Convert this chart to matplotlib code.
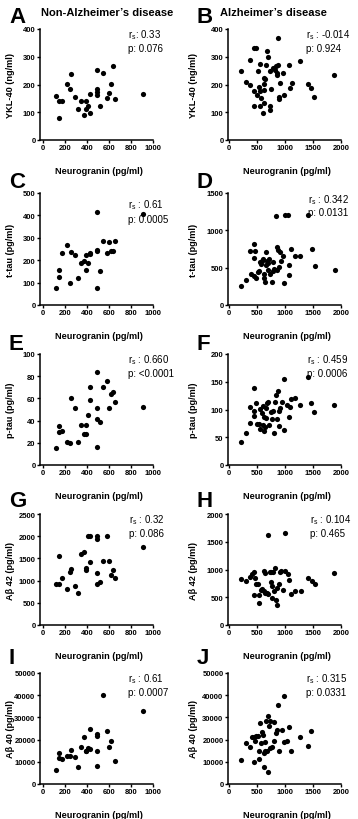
import matplotlib

matplotlib.use('Agg')
import matplotlib.pyplot as plt
import numpy as np

plt.rcParams['font.family'] = ['Liberation Sans', 'DejaVu Sans']
plt.rcParams['mathtext.default'] = 'regular'

nan = np.nan

# Non-Alzheimer's group: neurogranin (pg/ml), same subjects in A, C, E, G, I
ng_non = [120, 139, 139, 172, 217, 241, 256, 286, 319, 340, 373, 386, 392, 404,
          422, 425, 488, 488, 491, 491, 521, 542, 581, 596, 617, 636, 651, 910]
ykl_non = [158, 141, 81, 141, 203, 182, 239, 156, 110, 139, 91, 141, 110, 124,
           99, 166, 172, 161, 254, 185, 124, 240, 151, 170, 203, 268, 146, 167]
ttau_non = [75, 156, 126, 231, 270, 96, 235, 225, 120, 189, 195, 156, 222, 186,
            231, 228, 415, 245, 240, 75, 154, 284, 233, 280, 243, 240, 287, 407]
ptau_non = [15, 35, 30, 31, 21, 20, 60, 51, 21, 36, 28, 28, 36, 45,
            59, 70, 84, 51, 41, 16, 39, 70, 76, 51, 64, 66, 57, 52]
ab42_non = [920, 1550, 920, 1050, 820, 1200, 1270, 870, 720, 1600, 1650, 1280, 1235, 2000,
            1420, 2000, 2000, 1930, 1160, 920, 960, 1450, 2000, 1450, 1120, 1240, 1050, 1750]
ab40_non = [6500, 14100, 11800, 11100, 12600, 12400, 15200, 12000, 7800, 16500, 21000, 15000, 15000, 16000,
            24800, 15800, 22700, 21600, 15000, 8200, nan, 40000, 23700, 16800, 19400, nan, 10500, 33000]

# Alzheimer's group, read panel by panel
ng_b = [210, 306, 366, 378, 438, 438, 480, 450, 498, 522, 534, 546, 558, 558, 576, 606,
        618, 631, 618, 631, 655, 649, 679, 691, 739, 739, 757, 739, 781, 817, 835, 859,
        865, 871, 859, 889, 889, 907, 967, 979, 1069, 1081, 1129, 1267, 1411, 1471, 1520, 1880]
ykl_ad = [249, 209, 197, 289, 175, 330, 333, 124, 161, 248, 191, 121, 275, 178, 151, 97,
          203, 132, 179, 224, 272, 221, 321, 299, 121, 108, 182, 248, 261, 251, 266, 242,
          366, 270, 236, 155, 146, 207, 242, 163, 270, 187, 204, 285, 201, 187, 156, 236]

ng_d = [210, 300, 372, 390, 438, 438, 468, 450, 480, 510, 540, 559, 571, 583, 607, 619,
        631, 643, 661, 661, 679, 691, 703, 721, 739, 763, 781, 787, 811, 841, 847, 859,
        871, 901, 889, 931, 961, 979, 991, 1051, 1063, 1063, 1111, 1183, 1273, 1411, 1483, 1532, 1892]
ttau_ad = [251, 341, 718, 413, 817, 624, 718, 391, 368, 436, 458, 579, 548, 593, 611, 368,
           413, 314, 705, 539, 584, 467, 566, 615, 413, 314, 458, 570, 476, 1186, 772, 467,
           736, 705, 503, 593, 656, 301, 1204, 1204, 539, 400, 745, 660, 660, 1204, 745, 525, 467]

ng_f = [210, 300, 372, 378, 438, 438, 450, 480, 498, 540, 559, 559, 583, 601, 607, 619,
        631, 643, 661, 661, 679, 691, 721, 751, 763, 781, 811, 823, 841, 859, 871, 883,
        889, 907, 943, 979, 979, 1039, 1063, 1081, 1111, 1171, 1261, 1411, 1471, 1520, 1880]
ptau_ad = [42, 57, 76, 104, 138, 97, 88, 112, 73, 74, 101, 65, 94, 107, 72, 86,
           62, 68, 103, 85, 111, 113, 72, 96, 83, 98, 58, 113, 126, 82, 133, 71,
           98, 103, 113, 155, 63, 108, 86, 104, 119, 120, 108, 159, 112, 95, 108]

ng_h = [210, 300, 372, 402, 438, 462, 450, 486, 510, 540, 540, 571, 595, 619, 619, 643,
        643, 679, 703, 703, 727, 751, 745, 763, 775, 787, 811, 829, 835, 859, 859, 883,
        901, 919, 967, 991, 991, 1051, 1069, 1111, 1183, 1279, 1411, 1483, 1532, 1880]
ab42_ad = [825, 795, 867, 916, 952, 843, 542, 735, 735, 404, 542, 627, 645, 964, 614, 928,
           584, 578, 1627, 554, 952, 952, 783, 699, 494, 952, 614, 1036, 446, 355, 663, 747,
           952, 976, 639, 1650, 964, 916, 807, 554, 614, 614, 855, 795, 735, 928]

ng_j = [210, 300, 378, 402, 450, 462, 480, 438, 510, 540, 540, 559, 571, 583, 607, 619,
        619, 643, 643, 661, 679, 691, 691, 721, 727, 739, 763, 811, 811, 841, 853, 871,
        883, 943, 979, 979, 1039, 1063, 1111, 1261, 1411, 1471]
ab40_ad = [10800, 18300, 16500, 21300, 21300, 19200, 21800, 9800, 21800, 15000, 11400, 27300, 18600, 23300, 22100, 13800,
           7800, 19100, 14700, 28500, 14700, 30600, 5300, 26100, 28500, 16200, 16500, 27800, 19200, 22800, 24300, 35700,
           15000, 24300, 39600, 18800, 19200, 25500, 15000, 21300, 17300, 24000]

# panel descriptions
panels = [
    # letter, x, y, ylabel, yticks, rs text, p text, col, row
    ('A', ng_non, ykl_non, 'YKL-40 (ng/ml)', np.arange(0, 401, 100), 'r$_s$: 0.33', 'p: 0.076', 0, 0),
    ('B', ng_b, ykl_ad, 'YKL-40 (ng/ml)', np.arange(0, 401, 100), 'r$_s$ : -0.014', 'p: 0.924', 1, 0),
    ('C', ng_non, ttau_non, 't-tau (pg/ml)', np.arange(0, 501, 100), 'r$_s$ : 0.61', 'p: 0.0005', 0, 1),
    ('D', ng_d, ttau_ad, 't-tau (pg/ml)', np.arange(0, 1501, 500), 'r$_s$ : 0.342', 'p: 0.0131', 1, 1),
    ('E', ng_non, ptau_non, 'p-tau (pg/ml)', np.arange(0, 101, 20), 'r$_s$ : 0.660', 'p: <0.0001', 0, 2),
    ('F', ng_f, ptau_ad, 'p-tau (pg/ml)', np.arange(0, 201, 50), 'r$_s$ : 0.459', 'p: 0.0006', 1, 2),
    ('G', ng_non, ab42_non, 'Aβ 42 (pg/ml)', np.arange(0, 2501, 500), 'r$_s$ : 0.32', 'p: 0.086', 0, 3),
    ('H', ng_h, ab42_ad, 'Aβ 42 (pg/ml)', np.arange(0, 2001, 500), 'r$_s$ : 0.104', 'p: 0.465', 1, 3),
    ('I', ng_non, ab40_non, 'Aβ 40 (pg/ml)', np.arange(0, 50001, 10000), 'r$_s$ : 0.61', 'p: 0.0007', 0, 4),
    ('J', ng_j, ab40_ad, 'Aβ 40 (pg/ml)', np.arange(0, 50001, 10000), 'r$_s$ : 0.315', 'p: 0.0331', 1, 4),
]

W, H = 358, 820
fig = plt.figure(figsize=(W / 100, H / 100), dpi=100)

col_left = [40, 228]
ax_w = 113
rows = [(30, 141), (194, 306), (355, 466), (515, 626), (674, 785)]
letter_top = [7, 172, 334, 491, 648]
text_x = {'A': 0.78, 'B': 0.69, 'C': 0.78, 'D': 0.71, 'E': 0.78,
          'F': 0.70, 'G': 0.79, 'H': 0.73, 'I': 0.78, 'J': 0.69}

for letter, x, y, ylab, yticks, rs, pv, col, row in panels:
    top, bot = rows[row]
    ax = fig.add_axes([col_left[col] / W, 1 - bot / H, ax_w / W, (bot - top) / H])
    ax.scatter(x, y, s=14, color='black', linewidths=0, clip_on=False, zorder=3)
    if col == 0:
        ax.set_xlim(-30, 1000)
        ax.set_xticks(np.arange(0, 1001, 200))
    else:
        ax.set_xlim(-20, 2000)
        ax.set_xticks(np.arange(0, 2001, 500))
    ax.set_ylim(0, yticks[-1])
    ax.set_yticks(yticks)
    for side in ['top', 'right']:
        ax.spines[side].set_visible(False)
    for side in ['left', 'bottom']:
        ax.spines[side].set_linewidth(1.1)
    ax.tick_params(width=1.0, length=2.2, pad=1, labelsize=5.5)
    for lab in ax.get_xticklabels() + ax.get_yticklabels():
        lab.set_fontweight('bold')
    ax.set_ylabel(ylab, fontsize=6.6, fontweight='bold')
    ax.yaxis.set_label_coords(-0.22 if col == 0 else -0.265, 0.5)
    ax.set_xlabel('Neurogranin (pg/ml)', fontsize=6.6, fontweight='bold')
    ax.xaxis.set_label_coords(0.52, -0.235)
    ry, py = (0.90, 0.77) if letter == 'C' else (0.95, 0.83)
    ax.text(text_x[letter], ry, rs, transform=ax.transAxes, fontsize=7,
            va='center', ha='left', clip_on=False)
    ax.text(text_x[letter], py, pv, transform=ax.transAxes, fontsize=7,
            va='center', ha='left', clip_on=False)
    lx = 9 if col == 0 else 197
    fig.text(lx / W, 1 - letter_top[row] / H, letter, fontsize=16,
             fontweight='bold', va='top', ha='left')

fig.text(107 / W, 1 - 13 / H, 'Non-Alzheimer\u2019s disease', fontsize=8,
         fontweight='bold', ha='center', va='center')
fig.text(273 / W, 1 - 13 / H, 'Alzheimer\u2019s disease', fontsize=8,
         fontweight='bold', ha='center', va='center')

fig.savefig('out.png', dpi=100)
